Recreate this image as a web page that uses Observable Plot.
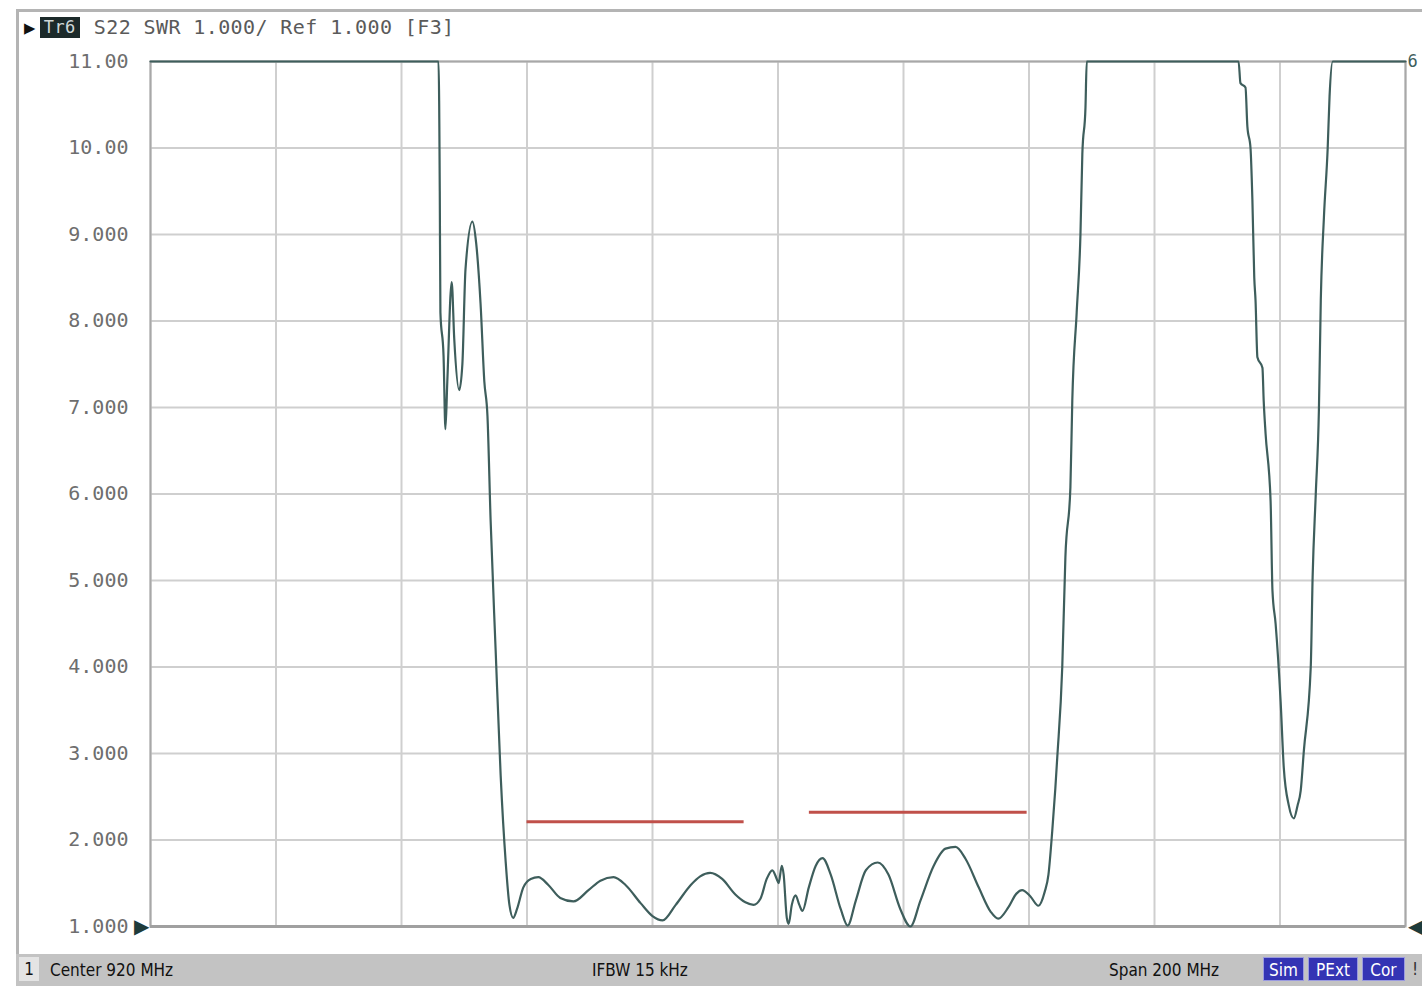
<!DOCTYPE html>
<html>
<head>
<meta charset="utf-8">
<script src="https://cdn.jsdelivr.net/npm/d3@7"></script>
<script src="https://cdn.jsdelivr.net/npm/@observablehq/plot@0.6"></script>
<style>
  html, body { margin: 0; padding: 0; background: #fff; }
  #wrap { position: relative; width: 1422px; height: 986px; overflow: hidden; background: #fff; }
  #wrap svg { position: absolute; left: 0; top: 0; }
  .mono { font-family: "DejaVu Sans Mono", "Liberation Mono", monospace; }
  #frameTop { position: absolute; left: 16px; top: 9px; width: 1406px; height: 3px; background: #b4b4b4; }
  #frameLeft { position: absolute; left: 16px; top: 9px; width: 3px; height: 946px; background: #b4b4b4; }
  #header { position: absolute; left: 24px; top: 14px; height: 26px; display: flex; align-items: center; font-size: 20px; color: #5a5a5a; letter-spacing: 0.4px; }
  #header .tri { font-size: 19px; color: #111; margin-right: 4px; }
  #header .tr { background: #1c2a2a; color: #cfd8d8; font-size: 17px; padding: 0 4px; margin-right: 14px; line-height: 21px; }
  #status { position: absolute; left: 16px; top: 954px; width: 1406px; height: 32px; background: #c3c3c3; font-family: "Liberation Sans Narrow", "DejaVu Sans Condensed", "Liberation Sans", sans-serif; font-size: 17px; color: #111; }
  #status span { position: absolute; top: 6px; white-space: nowrap; }
  #status .chan { left: 3px; top: 3px; width: 20px; height: 24px; background: #e4e4e4; text-align: center; line-height: 24px; }
  #status .flag { top: 3px; height: 24px; line-height: 24px; background: #3434b4; color: #fff; text-align: center; border: 1px solid #9a9ae0; box-sizing: border-box; }
</style>
</head>
<body>
<div id="wrap">
  <div id="frameTop"></div>
  <div id="frameLeft"></div>
  <div id="header" class="mono"><span class="tri">&#9654;</span><span class="tr">Tr6</span><span>S22 SWR 1.000/ Ref 1.000 [F3]</span></div>
  <div id="status">
    <span class="chan">1</span>
    <span style="left:34px">Center 920 MHz</span>
    <span style="left:576px">IFBW 15 kHz</span>
    <span style="left:1093px">Span 200 MHz</span>
    <span class="flag" style="left:1247px;width:41px">Sim</span>
    <span class="flag" style="left:1292px;width:50px">PExt</span>
    <span class="flag" style="left:1346px;width:43px">Cor</span>
    <span style="left:1396px;top:5px;color:#333">!</span>
  </div>
</div>
<script>
// Sweep: 820–1020 MHz (center 920 MHz, span 200 MHz), S22 displayed as SWR
const freqMHz = [
  820.0, 865.9, 866.1, 866.2, 866.7, 867.0, 867.3, 868.0, 868.4, 869.2,
  869.7, 870.2, 871.3, 871.9, 872.6, 873.2, 873.7, 874.2, 875.0, 875.8,
  876.6, 877.2, 877.8, 878.4, 879.4, 880.6, 881.8, 883.4, 885.3, 887.4,
  889.8, 891.7, 893.8, 895.7, 898.1, 900.0, 901.6, 903.7, 906.1, 907.6,
  909.2, 911.1, 913.2, 914.8, 916.1, 917.2, 918.2, 919.1, 919.8, 920.1,
  920.6, 920.9, 921.4, 921.7, 922.2, 922.8, 923.4, 923.9, 924.9, 926.0,
  927.1, 928.4, 930.0, 931.1, 932.4, 934.0, 935.9, 937.6, 939.5, 941.1,
  942.7, 944.8, 946.7, 948.3, 949.9, 952.0, 953.9, 955.1, 956.7, 958.0,
  958.9, 960.2, 961.5, 962.5, 963.1, 963.7, 964.2, 964.5, 965.3, 965.8,
  966.6, 966.9, 967.6, 968.2, 968.5, 969.0, 969.2, 993.4, 993.7, 994.5,
  994.8, 995.3, 995.6, 995.9, 996.1, 996.4, 997.2, 997.4, 997.7, 998.5,
  998.8, 999.3, 1000.1, 1000.6, 1001.4, 1002.2, 1002.8, 1003.3, 1003.8, 1004.9,
  1005.2, 1005.7, 1006.2, 1006.5, 1007.0, 1007.6, 1007.9, 1008.4, 1020.0
];
const swr = [
  11.0, 11.0, 9.5, 8.1, 7.6, 6.75, 7.3, 8.45, 7.8, 7.2,
  7.5, 8.6, 9.15, 8.9, 8.2, 7.3, 6.9, 5.7, 4.2, 2.75,
  1.75, 1.25, 1.1, 1.2, 1.45, 1.55, 1.57, 1.48, 1.33, 1.29,
  1.42, 1.53, 1.57, 1.48, 1.27, 1.12, 1.07, 1.25, 1.48, 1.58,
  1.62, 1.55, 1.37, 1.28, 1.25, 1.32, 1.55, 1.65, 1.55, 1.5,
  1.7, 1.6, 1.1, 1.03, 1.25, 1.36, 1.25, 1.18, 1.45, 1.7,
  1.79, 1.6, 1.2, 1.01, 1.3, 1.65, 1.74, 1.6, 1.2, 1.0,
  1.3, 1.7, 1.9, 1.92, 1.78, 1.45, 1.17, 1.09, 1.22, 1.38,
  1.42, 1.35, 1.24, 1.4, 1.6, 2.1, 2.6, 2.95, 4.0, 5.27,
  6.08, 7.08, 8.1, 9.0, 9.93, 10.47, 11.0, 11.0, 10.75, 10.7,
  10.25, 10.0, 9.4, 8.5, 8.24, 7.58, 7.46, 7.08, 6.7, 5.92,
  4.88, 4.5, 3.6, 2.84, 2.4, 2.25, 2.4, 2.57, 3.03, 4.0,
  5.04, 6.0, 6.97, 8.24, 9.2, 10.0, 10.6, 11.0, 11.0
];

// Limit segments (MHz start, MHz end, SWR level)
const limitStart = [880, 925];
const limitEnd = [914.6, 959.7];
const limitLevel = [2.21, 2.32];

// Axis ticks and labels
const yTicks = [1, 2, 3, 4, 5, 6, 7, 8, 9, 10, 11];
const yTickLabels = ["1.000", "2.000", "3.000", "4.000", "5.000", "6.000", "7.000", "8.000", "9.000", "10.00", "11.00"];
const xGrid = [820, 840, 860, 880, 900, 920, 940, 960, 980, 1000, 1020];

const trace = freqMHz.map((f, i) => ({f, swr: swr[i]}));
const limits = limitStart.map((s, i) => ({x1: s, x2: limitEnd[i], y: limitLevel[i]}));

const chart = Plot.plot({
  width: 1422,
  height: 986,
  marginLeft: 150,
  marginRight: 17,
  marginTop: 61,
  marginBottom: 60,
  style: {background: "transparent", overflow: "visible"},
  x: {domain: [820, 1020], axis: null},
  y: {domain: [1, 11], axis: null},
  marks: [
    Plot.gridX(xGrid, {stroke: "#cfcfcf", strokeOpacity: 1, strokeWidth: 2}),
    Plot.gridY(yTicks, {stroke: "#cfcfcf", strokeOpacity: 1, strokeWidth: 2}),
    Plot.frame({stroke: "#a8a8a8", strokeWidth: 2}),
    Plot.ruleY([1], {stroke: "#a0a0a0", strokeWidth: 3}),
    Plot.axisY(yTicks, {
      tickSize: 0,
      tickPadding: 22,
      tickFormat: (d) => yTickLabels[yTicks.indexOf(d)],
      fontSize: 20,
      fontFamily: "DejaVu Sans Mono, Liberation Mono, monospace",
      fill: "#6e6e6e",
      label: null
    }),
    Plot.ruleY(limits, {x1: "x1", x2: "x2", y: "y", stroke: "#c0504a", strokeWidth: 3}),
    Plot.line(trace, {x: "f", y: "swr", stroke: "#3e5e5c", strokeWidth: 2.2, curve: "monotone-x"}),
    Plot.text([{x: 820, y: 1}], {x: "x", y: "y", text: () => "\u25B6", dx: -9, fontSize: 20, fill: "#1e3b3b"}),
    Plot.text([{x: 1020, y: 1}], {x: "x", y: "y", text: () => "\u25C0", dx: 10, fontSize: 20, fill: "#1e3b3b"}),
    Plot.text([{x: 1020, y: 11}], {x: "x", y: "y", text: () => "6", dx: 7, fontSize: 17, fill: "#3e5e5c", fontFamily: "DejaVu Sans Mono, monospace"})
  ]
});

document.getElementById("wrap").prepend(chart);
</script>
</body>
</html>
